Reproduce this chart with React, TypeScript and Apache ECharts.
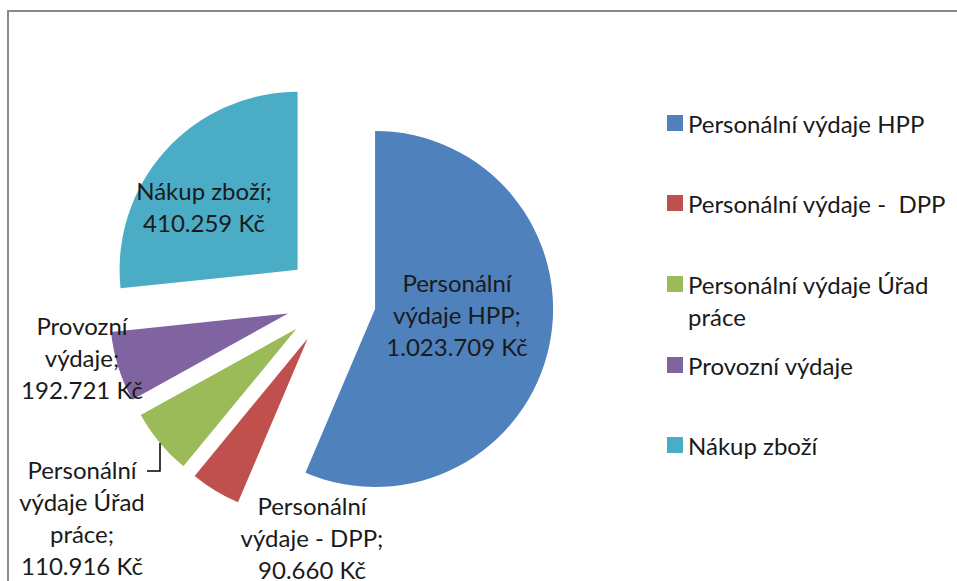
import React, { useEffect, useRef } from "react";
import * as echarts from "echarts";

const categories = [
  "Personální výdaje HPP",
  "Personální výdaje - DPP",
  "Personální výdaje Úřad práce",
  "Provozní výdaje",
  "Nákup zboží",
];
// values printed in the data labels (Kč)
const labelValues = [1023709, 90660, 110916, 192721, 410259];
// slice shares as drawn in the reference picture (% of the pie)
const sliceShares = [56.4, 4.55, 6.0, 6.4, 26.65];
const colors = ["#4F81BD", "#C0504D", "#9BBB59", "#8064A2", "#4BACC6"];
const labelNames = [
  "Personální\nvýdaje HPP",
  "Personální\nvýdaje - DPP",
  "Personální\nvýdaje Úřad\npráce",
  "Provozní\nvýdaje",
  "Nákup zboží",
];
const legendTexts = [
  "Personální výdaje HPP",
  "Personální výdaje -  DPP",
  "Personální výdaje Úřad\npráce",
  "Provozní výdaje",
  "Nákup zboží",
];

const labelPos = [
  [457, 314],
  [312, 537],
  [82, 517],
  [82, 357],
  [204, 206],
];
const legendTops = [107, 187, 268, 349, 429];

const FONT = "Lato, 'Noto Sans', sans-serif";
const FS = 24;

const formatKc = (v: number) =>
  v.toString().replace(/\B(?=(\d{3})+(?!\d))/g, ".") + " Kč";

export default function App() {
  const ref = useRef<HTMLDivElement>(null);
  useEffect(() => {
    if (!ref.current) return;
    const chart = echarts.init(ref.current, undefined, { renderer: "svg" });
    const data = categories.map((name, i) => ({
      name,
      value: sliceShares[i],
      selected: true,
      itemStyle: { color: colors[i] },
    }));
    const legends = categories.map((name, i) => ({
      data: [name],
      orient: "vertical",
      left: 667,
      top: legendTops[i],
      padding: 0,
      itemWidth: 16,
      itemHeight: i === 2 ? 48 : 16,
      icon: i === 2 ? "path://M0 0H16V16H0Z M0 48H16" : "rect",
      selectedMode: false,
      itemStyle: { borderWidth: 0 },
      formatter: () => legendTexts[i],
      textStyle: {
        fontFamily: FONT,
        fontSize: FS,
        lineHeight: 32,
        color: "#1a1a1a",
      },
    }));
    const labelGraphics = categories.map((_, i) => ({
      type: "text",
      x: labelPos[i][0],
      y: labelPos[i][1],
      silent: true,
      z: 10,
      style: {
        text: labelNames[i] + ";\n" + formatKc(labelValues[i]),
        fontFamily: FONT,
        fontSize: FS,
        lineHeight: 32,
        fill: "#1a1a1a",
        align: "center",
        verticalAlign: "middle",
      },
    }));
    chart.setOption({
      animation: false,
      backgroundColor: "#ffffff",
      legend: legends,
      graphic: [
        {
          type: "rect",
          shape: { x: 8, y: 11, width: 1200, height: 1000 },
          style: { fill: "none", stroke: "#8a8a8a", lineWidth: 2 },
          silent: true,
          z: -10,
        },
        {
          type: "polyline",
          shape: {
            points: [
              [160, 443],
              [160, 471],
              [147, 471],
            ],
          },
          style: { fill: "none", stroke: "#000000", lineWidth: 1.5 },
          silent: true,
          z: 10,
        },
        ...labelGraphics,
      ],
      series: [
        {
          type: "pie",
          center: [331, 300],
          radius: [0, 178],
          startAngle: 90,
          clockwise: true,
          selectedMode: "multiple",
          selectedOffset: 45,
          avoidLabelOverlap: false,
          emphasis: { disabled: true },
          select: { itemStyle: { borderWidth: 0 } },
          itemStyle: { borderWidth: 0 },
          label: { show: false },
          labelLine: { show: false },
          data,
        },
      ],
    });
    return () => chart.dispose();
  }, []);
  return (
    <div
      ref={ref}
      style={{ position: "fixed", left: 0, top: 0, width: 957, height: 581 }}
    />
  );
}
